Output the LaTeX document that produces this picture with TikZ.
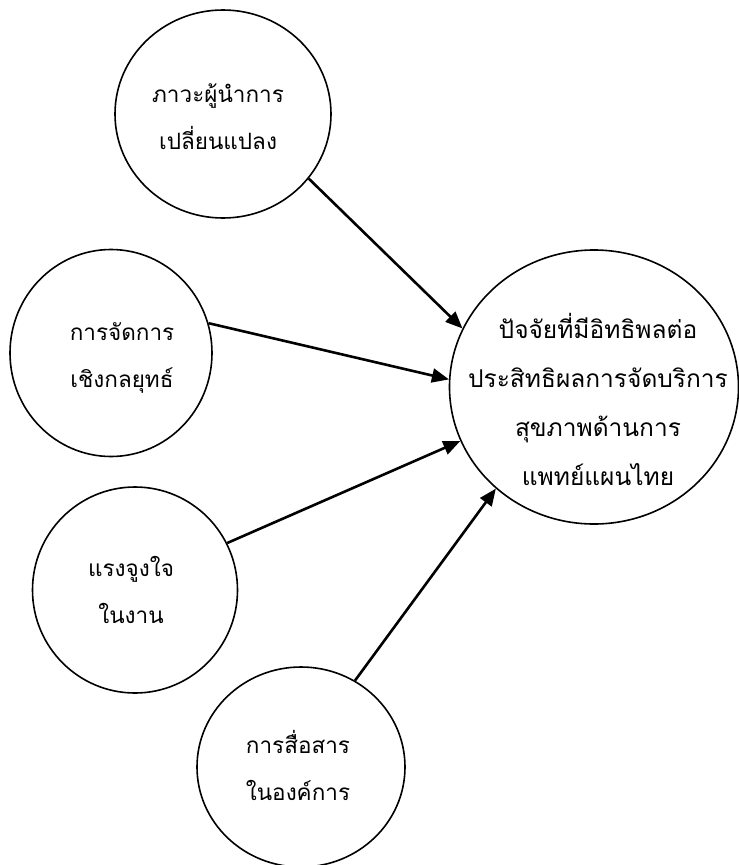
\documentclass[tikz,border=0pt]{standalone}
\usepackage{fontspec}
\newfontfamily\thaifont[Script=Thai]{Loma}
\usetikzlibrary{shapes.geometric,arrows.meta}
\begin{document}
\begin{tikzpicture}[x=1pt,y=-1pt,
  oval/.style={ellipse,draw,line width=1.6pt,inner sep=0pt},
  lbl/.style={align=center,inner sep=0pt,font=\thaifont\fontsize{22.5}{47}\selectfont},
  conn/.style={line width=2.6pt,-{Triangle[length=17pt,width=14pt]}}]
\useasboundingbox (0,0) rectangle (739,865);
\node[oval,minimum width=216pt,minimum height=208pt] (e1) at (223,114) {};
\node[oval,minimum width=202pt,minimum height=207pt] (e2) at (111,353) {};
\node[oval,minimum width=205pt,minimum height=206pt] (e3) at (135,590) {};
\node[oval,minimum width=208pt,minimum height=200pt] (e4) at (301,767) {};
\node[oval,minimum width=289pt,minimum height=274pt] (goal) at (594,387) {};
\node[lbl] (t1) at (218,117) {ภาวะผู้นำการ\\เปลี่ยนแปลง};
\node[lbl] (t2) at (122,358) {การจัดการ\\เชิงกลยุทธ์};
\node[lbl] (t3) at (131,590) {แรงจูงใจ\\ในงาน};
\node[lbl] (t4) at (298,765) {การสื่อสาร\\ในองค์การ};
\node[lbl,font=\thaifont\fontsize{24.5}{49}\selectfont] (tg) at (598,399) {ปัจจัยที่มีอิทธิพลต่อ\\ประสิทธิผลการจัดบริการ\\สุขภาพด้านการ\\แพทย์แผนไทย};
\draw[conn] (e1.-37) -- (goal.156);
\draw[conn] (e2.17) -- (goal.177);
\draw[conn] (e3.27) -- (goal.202);
\draw[conn] (e4.58) -- (goal.226);
\end{tikzpicture}
\end{document}
